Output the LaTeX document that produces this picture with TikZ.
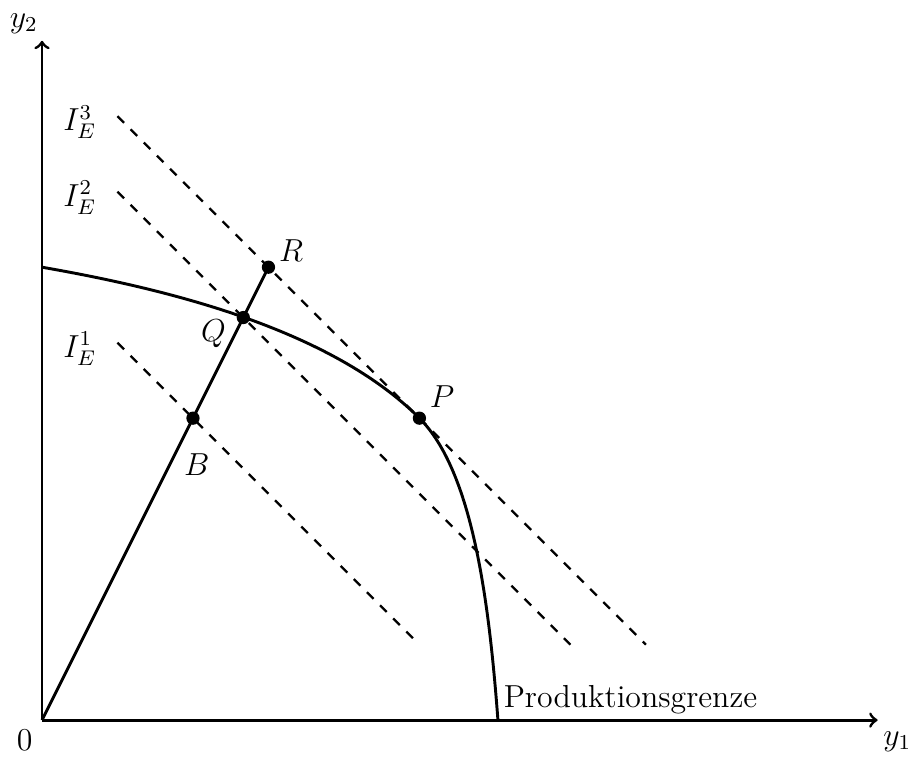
\documentclass[tikz,border=0pt]{standalone}
\begin{document}
\begin{tikzpicture}[x=1cm,y=1cm,font=\large,
  axis/.style={line width=1.1pt,->},
  curve/.style={line width=1.1pt},
  indiff/.style={line width=0.9pt,dash pattern=on 3.5pt off 3.5pt},
  pt/.style={circle,fill=black,inner sep=0pt,minimum size=5pt}]
\useasboundingbox (-0.5566,-0.5036) rectangle (11.486,9.540);
\coordinate (O) at (0,0);
\coordinate (X) at (11.07,0);
\coordinate (Y) at (0,9.0);
\draw[axis] (O) -- (X);
\draw[axis] (O) -- (Y);
\node (y1) at (11.33,-0.28) {$y_1$};
\node (y2) at (-0.24,9.23) {$y_2$};
\node[anchor=north east,inner sep=2pt] (zero) at (-0.05,-0.05) {$0$};
% indifference curves
\coordinate (a1) at (1,5); \coordinate (b1) at (5,1);
\coordinate (a2) at (1,7); \coordinate (b2) at (7,1);
\coordinate (a3) at (1,8); \coordinate (b3) at (8,1);
\draw[indiff] (a1) -- (b1);
\draw[indiff] (a2) -- (b2);
\draw[indiff] (a3) -- (b3);
\node (l1) at (0.5,4.92) {$I_E^1$};
\node (l2) at (0.5,6.92) {$I_E^2$};
\node (l3) at (0.5,7.92) {$I_E^3$};
% frontier
\coordinate (F0) at (0,6);
\coordinate (F1) at (6.04,0);
\node[pt] (P) at (5,4) {};
\draw[curve] (F0) .. controls (1.6,5.72) and (3.8,5.2) .. (P.center)
  .. controls (5.7,3.3) and (5.92,1.6) .. (F1);
\node[anchor=south west,inner sep=2pt] (pg) at (F1) {Produktionsgrenze};
% ray
\node[pt] (B) at (2,4) {};
\node[pt] (Q) at (2.667,5.333) {};
\node[pt] (R) at (3,6) {};
\draw[curve] (O) -- (R.center);
\node (lP) at (5.3,4.28) {$P$};
\node (lR) at (3.3,6.22) {$R$};
\node (lQ) at (2.27,5.12) {$Q$};
\node (lB) at (2.05,3.38) {$B$};
\end{tikzpicture}
\end{document}
